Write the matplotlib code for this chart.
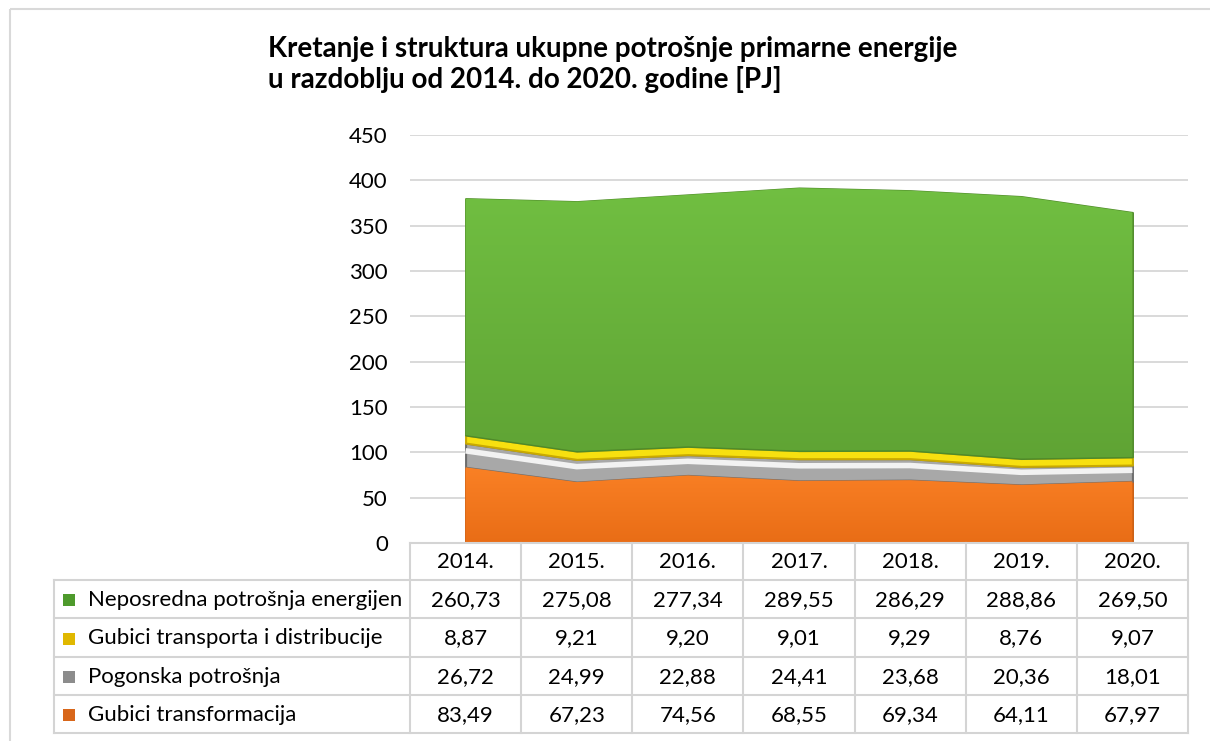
import numpy as np
import matplotlib.pyplot as plt
from matplotlib.patches import Rectangle
from matplotlib.colors import LinearSegmentedColormap

plt.rcParams['font.family'] = ['Lato', 'DejaVu Sans']

# data
years = ['2014.', '2015.', '2016.', '2017.', '2018.', '2019.', '2020.']
neposredna = [260.73, 275.08, 277.34, 289.55, 286.29, 288.86, 269.50]
transport = [8.87, 9.21, 9.20, 9.01, 9.29, 8.76, 9.07]
pogonska = [26.72, 24.99, 22.88, 24.41, 23.68, 20.36, 18.01]
transformacija = [83.49, 67.23, 74.56, 68.55, 69.34, 64.11, 67.97]

labels = ['Neposredna potrošnja energijen', 'Gubici transporta i distribucije',
          'Pogonska potrošnja', 'Gubici transformacija']
series = [neposredna, transport, pogonska, transformacija]
colors = ['#66b23a', '#f7e010', '#a8a8a8', '#f97c1e']
edges = ['#4f8a2a', '#c9a900', '#6e6e6e', '#c95d12']
key_colors = ['#4e9a2c', '#e0b800', '#8c8c8c', '#d8661a']

W, H = 1210, 741
fig = plt.figure(figsize=(W / 100, H / 100), dpi=100)

# plot area in pixels
x0, x1 = 410, 1188
y_zero, y_top = 543, 135
ax = fig.add_axes([x0 / W, (H - y_zero) / H, (x1 - x0) / W, (y_zero - y_top) / H])
x = np.arange(len(years))
ax.set_xlim(-0.5, len(years) - 0.5)
ax.set_ylim(0, 450)
ax.set_yticks(range(0, 451, 50))
ax.set_xticks([])
ax.grid(axis='y', color='#d9d9d9', linewidth=1.4)
ax.set_axisbelow(True)
for s in ax.spines.values():
    s.set_visible(False)
ax.tick_params(axis='y', length=0, pad=16, labelsize=16)

# stacked areas, bottom to top
stack = [transformacija, pogonska, transport, neposredna]
polys = ax.stackplot(x, *stack, colors=colors[::-1], zorder=2)
for p, ec in zip(polys, edges[::-1]):
    p.set_edgecolor(ec)
    p.set_linewidth(1.5)

# vertical shading on green and orange layers
grad = np.linspace(0, 1, 256).reshape(-1, 1)
shades = [(polys[3], '#5a9b30', '#74c444', 450), (polys[0], '#e96d16', '#fb8226', 90)]
for p, c_bot, c_top, top in shades:
    cm = LinearSegmentedColormap.from_list('g', [c_bot, c_top])
    im = ax.imshow(grad, cmap=cm, aspect='auto', origin='lower',
                   extent=(-0.5, len(years) - 0.5, 0, top), zorder=2.5)
    im.set_clip_path(p.get_paths()[0], transform=ax.transData)

# highlight stripe in grey band
mid = np.array(transformacija) + np.array(pogonska) * 0.68
ax.plot(x, mid, color='#f2f2f2', linewidth=4, zorder=3, solid_capstyle='butt')

# overlay for title, table and frame
ov = fig.add_axes([0, 0, 1, 1], zorder=5)
ov.set_xlim(0, W)
ov.set_ylim(H, 0)
ov.axis('off')
ov.patch.set_alpha(0)

ov.add_patch(Rectangle((10, 9), W + 20, H + 20, fill=False, edgecolor='#d9d9d9', linewidth=1.5))

ov.text(268, 57, 'Kretanje i struktura ukupne potrošnje primarne energije',
        fontsize=20, fontweight='bold', va='baseline', ha='left')
ov.text(268, 88, 'u razdoblju od 2014. do 2020. godine [PJ]',
        fontsize=20, fontweight='bold', va='baseline', ha='left')

# data table
grid_c = '#d4d4d4'
col_w = (x1 - x0) / len(years)
rows_y = [543, 580, 618, 657, 695, 733]
left = 54
lw = 1.5
ov.plot([x0, x1], [rows_y[0], rows_y[0]], color=grid_c, lw=lw)
for yy in rows_y[1:]:
    ov.plot([left, x1], [yy, yy], color=grid_c, lw=lw)
ov.plot([left, left], [rows_y[1], rows_y[-1]], color=grid_c, lw=lw)
for i in range(len(years) + 1):
    xx = x0 + i * col_w
    ov.plot([xx, xx], [rows_y[0], rows_y[-1]], color=grid_c, lw=lw)

fs = 16
for i, yr in enumerate(years):
    ov.text(x0 + (i + 0.5) * col_w, (rows_y[0] + rows_y[1]) / 2 + 1, yr,
            ha='center', va='center', fontsize=fs)
for r, (lab, vals) in enumerate(zip(labels, series)):
    yc = (rows_y[r + 1] + rows_y[r + 2]) / 2 + 1
    ov.add_patch(Rectangle((63, yc - 6), 12, 12, facecolor=key_colors[r],
                           edgecolor='none'))
    ov.text(88, yc, lab, ha='left', va='center', fontsize=fs)
    for i, v in enumerate(vals):
        ov.text(x0 + (i + 0.5) * col_w, yc, f'{v:.2f}'.replace('.', ','),
                ha='center', va='center', fontsize=fs)

fig.savefig('out.png', dpi=100)
